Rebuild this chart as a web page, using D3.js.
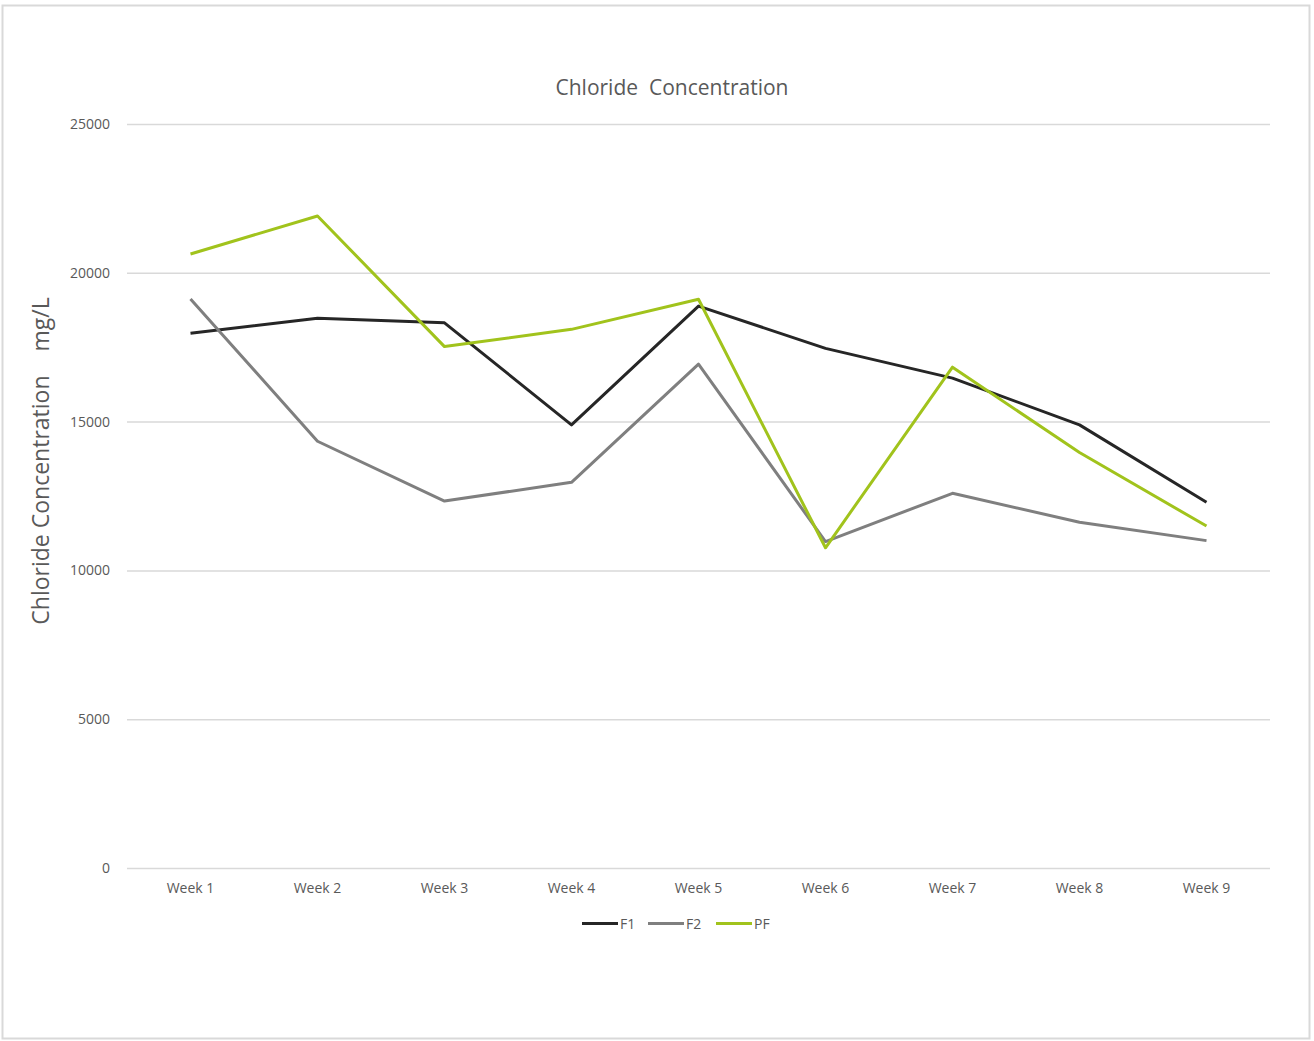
<!DOCTYPE html>
<html>
<head>
<meta charset="utf-8">
<script src="https://cdn.jsdelivr.net/npm/d3@7"></script>
<style>
  html, body { margin: 0; padding: 0; background: #ffffff; }
  svg { display: block; }
  text { font-family: "Open Sans", "Noto Sans", sans-serif; fill: #595959; }
</style>
</head>
<body>
<script>
// Weekly chloride readings (mg/L)
const weeks = ["Week 1", "Week 2", "Week 3", "Week 4", "Week 5", "Week 6", "Week 7", "Week 8", "Week 9"];
const f1 = [17970, 18470, 18320, 14890, 18880, 17460, 16460, 14890, 12290];
const f2 = [19120, 14340, 12330, 12960, 16930, 10970, 12590, 11620, 11000];
const pf = [20630, 21910, 17520, 18100, 19110, 10760, 16830, 13960, 11490];
const seriesNames = ["F1", "F2", "PF"];
const yTicks = [0, 5000, 10000, 15000, 20000, 25000];

const series = [
  { name: seriesNames[0], values: f1, color: "#262626" },
  { name: seriesNames[1], values: f2, color: "#7f7f7f" },
  { name: seriesNames[2], values: pf, color: "#a1c31c" }
];

const W = 1314, H = 1041;
const plot = { left: 127, right: 1270, top: 124, bottom: 868 };

const svg = d3.select("body").append("svg")
  .attr("width", W).attr("height", H);

// chart frame
svg.append("rect")
  .attr("x", 2.5).attr("y", 5.5)
  .attr("width", 1307).attr("height", 1033)
  .attr("fill", "#ffffff")
  .attr("stroke", "#d9d9d9").attr("stroke-width", 2);

const x = d3.scaleBand().domain(weeks).range([plot.left, plot.right]);
const y = d3.scaleLinear().domain([0, 25000]).range([plot.bottom, plot.top]);

// horizontal gridlines + y labels
const yAxis = d3.axisLeft(y).tickValues(yTicks).tickSize(-(plot.right - plot.left)).tickPadding(17)
  .tickFormat(d3.format("d"));
const gy = svg.append("g").attr("transform", `translate(${plot.left},0)`).call(yAxis);
gy.select(".domain").remove();
gy.selectAll(".tick line").attr("stroke", "#d9d9d9").attr("stroke-width", 1.5);
gy.selectAll(".tick text").attr("font-size", 14).style("fill", "#595959");

// category labels
const xAxis = d3.axisBottom(x).tickSize(0).tickPadding(15);
const gx = svg.append("g").attr("transform", `translate(0,${plot.bottom})`).call(xAxis);
gx.select(".domain").remove();
gx.selectAll(".tick text").attr("font-size", 14).style("fill", "#595959");

// series lines
const line = d3.line()
  .x((d, i) => x(weeks[i]) + x.bandwidth() / 2)
  .y(d => y(d));

svg.append("g").selectAll("path")
  .data(series)
  .join("path")
  .attr("d", d => line(d.values))
  .attr("fill", "none")
  .attr("stroke", d => d.color)
  .attr("stroke-width", 3)
  .attr("stroke-linejoin", "round");

// title
svg.append("text")
  .attr("x", 672).attr("y", 95)
  .attr("text-anchor", "middle")
  .attr("font-size", 21)
  .style("white-space", "pre")
  .text("Chloride  Concentration");

// y-axis title
svg.append("text")
  .attr("transform", `translate(49,461) rotate(-90)`)
  .attr("text-anchor", "middle")
  .attr("font-size", 23)
  .style("white-space", "pre")
  .text("Chloride Concentration    mg/L");

// legend
const legendItems = [
  { x: 582 }, { x: 648 }, { x: 716 }
];
const lg = svg.append("g");
series.forEach((s, i) => {
  const lx = legendItems[i].x;
  lg.append("line")
    .attr("x1", lx).attr("x2", lx + 36)
    .attr("y1", 923.5).attr("y2", 923.5)
    .attr("stroke", s.color).attr("stroke-width", 3);
  lg.append("text")
    .attr("x", lx + 38).attr("y", 928.5)
    .attr("font-size", 14)
    .text(s.name);
});
</script>
</body>
</html>
